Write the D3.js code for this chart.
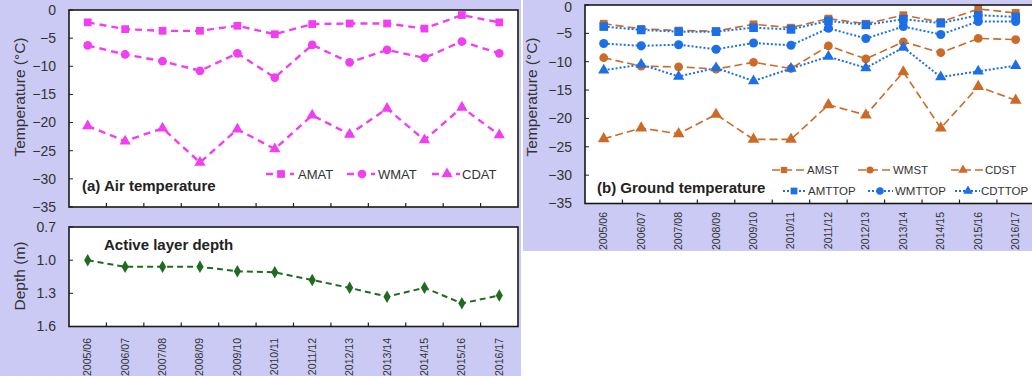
<!DOCTYPE html>
<html>
<head>
<meta charset="utf-8">
<script src="https://cdn.jsdelivr.net/npm/d3@7"></script>
<style>
  body { margin: 0; background: #fff; }
  svg { display: block; font-family: "Liberation Sans", Arial, sans-serif; }
  .tick-label { fill: #333; }
</style>
</head>
<body>
<svg id="chart" width="1032" height="379"></svg>
<script>
// ---- data ----
const seasons = ['2005/06', '2006/07', '2007/08', '2008/09', '2009/10', '2010/11',
  '2011/12', '2012/13', '2013/14', '2014/15', '2015/16', '2016/17'];

// (a) air temperature, degC
const amat = [-2.2, -3.4, -3.7, -3.7, -2.8, -4.3, -2.5, -2.4, -2.4, -3.3, -0.9, -2.2];
const wmat = [-6.3, -7.9, -9.1, -10.8, -7.7, -12.0, -6.2, -9.3, -7.1, -8.5, -5.6, -7.7];
const cdat = [-20.6, -23.3, -21.0, -27.1, -21.2, -24.7, -18.7, -22.1, -17.5, -23.1, -17.3, -22.2];

// (b) ground temperature, degC
const amst = [-3.3, -4.2, -4.5, -4.6, -3.4, -4.0, -2.4, -3.3, -1.8, -3.0, -0.7, -1.4];
const wmst = [-9.3, -10.8, -10.9, -11.3, -10.1, -11.2, -7.2, -9.5, -6.5, -8.4, -5.9, -6.1];
const cdst = [-23.6, -21.7, -22.7, -19.3, -23.7, -23.7, -17.6, -19.4, -11.8, -21.7, -14.4, -16.8];
const amttop = [-3.8, -4.4, -4.7, -4.7, -4.0, -4.3, -2.8, -3.5, -2.5, -3.2, -1.8, -2.1];
const wmttop = [-6.8, -7.2, -7.0, -7.8, -6.7, -7.1, -4.1, -5.9, -3.8, -5.2, -2.9, -2.9];
const cdttop = [-11.5, -10.5, -12.6, -11.1, -13.4, -11.2, -9.1, -11.1, -7.5, -12.7, -11.7, -10.7];

// active layer depth, m
const depth = [1.0, 1.06, 1.06, 1.06, 1.10, 1.11, 1.18, 1.25, 1.33, 1.25, 1.39, 1.32];

const tempTicks = [0, -5, -10, -15, -20, -25, -30, -35];
const depthTicks = [0.7, 1.0, 1.3, 1.6];

const lavender = '#cacaf5';
const magenta = '#f03ef0';
const orange = '#cc6a28';
const blue = '#1d6fe6';
const green = '#1f6b1f';

const svg = d3.select('#chart');

// panel backgrounds
svg.append('rect').attr('x', 0).attr('y', 0).attr('width', 521).attr('height', 376).attr('fill', lavender);
svg.append('rect').attr('x', 523).attr('y', 0).attr('width', 509).attr('height', 251).attr('fill', lavender);

class LinePanel {
  constructor(_config) {
    this.config = _config;
    this.init();
  }

  init() {
    let vis = this;
    const c = vis.config;

    vis.xScale = d3.scaleBand().domain(seasons).range([c.left, c.right]);
    vis.yScale = d3.scaleLinear().domain(c.yDomain).range([c.top, c.bottom]);

    vis.g = svg.append('g');

    vis.g.append('rect')
      .attr('x', c.left).attr('y', c.top)
      .attr('width', c.right - c.left).attr('height', c.bottom - c.top)
      .attr('fill', '#fff');

    // y ticks + labels
    vis.g.selectAll('.ytick').data(c.yTicks).join('line')
      .attr('class', 'ytick')
      .attr('x1', c.left).attr('x2', c.left + 4)
      .attr('y1', d => vis.yScale(d)).attr('y2', d => vis.yScale(d))
      .attr('stroke', '#222').attr('stroke-width', 1);
    vis.g.selectAll('.ylab').data(c.yTicks).join('text')
      .attr('class', 'ylab tick-label')
      .attr('x', c.left - 13)
      // keep the top label inside the page
      .attr('y', d => Math.max(vis.yScale(d), 7))
      .attr('dy', '0.35em')
      .attr('text-anchor', 'end')
      .attr('font-size', 14)
      .text(c.yFormat);

    // x ticks on band boundaries, pointing inward
    vis.g.selectAll('.xtick').data(seasons.slice(1)).join('line')
      .attr('class', 'xtick')
      .attr('x1', d => vis.xScale(d)).attr('x2', d => vis.xScale(d))
      .attr('y1', c.bottom).attr('y2', c.bottom - 4)
      .attr('stroke', '#222').attr('stroke-width', 1.2);

    if (c.xLabels) {
      vis.g.selectAll('.xlab').data(seasons).join('text')
        .attr('class', 'xlab tick-label')
        .attr('transform', d => `translate(${vis.xScale(d) + vis.xScale.bandwidth() / 2 + 3.5},${c.xLabelY}) rotate(-90)`)
        .attr('text-anchor', 'end')
        .attr('font-size', 10.5)
        .text(d => d);
    }

    vis.g.append('text')
      .attr('transform', `translate(${c.yLabelX},${c.yLabelY}) rotate(-90)`)
      .attr('text-anchor', 'middle')
      .attr('font-size', 15.5)
      .attr('fill', '#333')
      .text(c.yLabel);

    vis.g.append('text')
      .attr('x', c.title.x).attr('y', c.title.y)
      .attr('font-size', 15).attr('font-weight', 'bold')
      .attr('fill', '#222')
      .text(c.title.text);
  }

  addSeries(s) {
    let vis = this;
    const xc = d => vis.xScale(d) + vis.xScale.bandwidth() / 2;
    const line = d3.line()
      .x((d, i) => xc(seasons[i]))
      .y(d => vis.yScale(d));

    vis.g.append('path')
      .datum(s.values)
      .attr('d', line)
      .attr('fill', 'none')
      .attr('stroke', s.color)
      .attr('stroke-width', s.width)
      .attr('stroke-dasharray', s.dash);

    const sym = d3.symbol().type(s.symbol).size(s.size);
    vis.g.selectAll(null).data(s.values).join('path')
      .attr('transform', (d, i) => `translate(${xc(seasons[i])},${vis.yScale(d)})`)
      .attr('d', sym)
      .attr('fill', s.color);

    if (s.legend) {
      const L = s.legend;
      const lg = vis.g.append('g');
      lg.append('line')
        .attr('x1', L.x0).attr('x2', L.x1).attr('y1', L.y).attr('y2', L.y)
        .attr('stroke', s.color).attr('stroke-width', s.width)
        .attr('stroke-dasharray', s.dash);
      lg.append('path')
        .attr('transform', `translate(${L.mx},${L.y})`)
        .attr('d', d3.symbol().type(s.symbol).size(L.size || s.size))
        .attr('fill', s.color);
      lg.append('text')
        .attr('x', L.tx).attr('y', L.y).attr('dy', '0.35em')
        .attr('font-size', L.fs)
        .attr('fill', '#333')
        .text(s.name);
    }
  }

  frame() {
    const c = this.config;
    this.g.append('rect')
      .attr('x', c.left).attr('y', c.top)
      .attr('width', c.right - c.left).attr('height', c.bottom - c.top)
      .attr('fill', 'none').attr('stroke', '#1a1a1a').attr('stroke-width', 1.6);
  }
}

const tempFmt = d => d3.format('d')(d);

// (a) air temperature
const pa = new LinePanel({
  left: 69, right: 518, top: 10, bottom: 207,
  yDomain: [0, -35], yTicks: tempTicks, yFormat: tempFmt,
  yLabel: 'Temperature (°C)', yLabelX: 25, yLabelY: 97,
  title: { text: '(a) Air temperature', x: 82, y: 191 },
  xLabels: false
});
const aDash = '7,5';
pa.addSeries({ name: 'AMAT', values: amat, color: magenta, width: 2.4, dash: aDash, symbol: d3.symbolSquare, size: 60,
  legend: { x0: 266, x1: 294, mx: 281, tx: 298, y: 174, fs: 13 } });
pa.addSeries({ name: 'WMAT', values: wmat, color: magenta, width: 2.4, dash: aDash, symbol: d3.symbolCircle, size: 60,
  legend: { x0: 347, x1: 375, mx: 362, tx: 378, y: 174, fs: 13 } });
pa.addSeries({ name: 'CDAT', values: cdat, color: magenta, width: 2.4, dash: aDash, symbol: d3.symbolTriangle, size: 55,
  legend: { x0: 432, x1: 460, mx: 447, tx: 462, y: 174, fs: 13 } });
pa.frame();

// active layer depth
const pd = new LinePanel({
  left: 69, right: 518, top: 227, bottom: 326.5,
  yDomain: [0.7, 1.6], yTicks: depthTicks, yFormat: d => d3.format('.1f')(d),
  yLabel: 'Depth (m)', yLabelX: 25, yLabelY: 276,
  title: { text: 'Active layer depth', x: 104, y: 250 },
  xLabels: true, xLabelY: 338
});
pd.addSeries({ name: 'ALT', values: depth, color: green, width: 2, dash: '6,4', symbol: d3.symbolDiamond, size: 45 });
pd.frame();

// (b) ground temperature
const pb = new LinePanel({
  left: 585, right: 1034.4, top: 5, bottom: 203.5,
  yDomain: [0, -35], yTicks: tempTicks, yFormat: tempFmt,
  yLabel: 'Temperature (°C)', yLabelX: 537, yLabelY: 97,
  title: { text: '(b) Ground temperature', x: 597, y: 193 },
  xLabels: true, xLabelY: 212
});
const oDash = '8,4';
const bDash = '2,2';
pb.addSeries({ name: 'AMST', values: amst, color: orange, width: 1.6, dash: oDash, symbol: d3.symbolSquare, size: 60,
  legend: { x0: 772, x1: 805, mx: 784, tx: 807, y: 170, fs: 11.5, size: 40 } });
pb.addSeries({ name: 'WMST', values: wmst, color: orange, width: 1.6, dash: oDash, symbol: d3.symbolCircle, size: 60,
  legend: { x0: 858, x1: 891, mx: 870, tx: 893, y: 170, fs: 11.5, size: 40 } });
pb.addSeries({ name: 'CDST', values: cdst, color: orange, width: 1.6, dash: oDash, symbol: d3.symbolTriangle, size: 60,
  legend: { x0: 951, x1: 983, mx: 963, tx: 985, y: 170, fs: 11.5, size: 40 } });
pb.addSeries({ name: 'AMTTOP', values: amttop, color: blue, width: 2, dash: bDash, symbol: d3.symbolSquare, size: 75,
  legend: { x0: 783, x1: 806, mx: 794, tx: 808, y: 191, fs: 11.5, size: 45 } });
pb.addSeries({ name: 'WMTTOP', values: wmttop, color: blue, width: 2, dash: bDash, symbol: d3.symbolCircle, size: 65,
  legend: { x0: 868, x1: 893, mx: 880, tx: 895, y: 191, fs: 11.5, size: 45 } });
pb.addSeries({ name: 'CDTTOP', values: cdttop, color: blue, width: 2, dash: bDash, symbol: d3.symbolTriangle, size: 55,
  legend: { x0: 955, x1: 980, mx: 968, tx: 981, y: 191, fs: 11.5, size: 40 } });
pb.frame();
</script>
</body>
</html>
